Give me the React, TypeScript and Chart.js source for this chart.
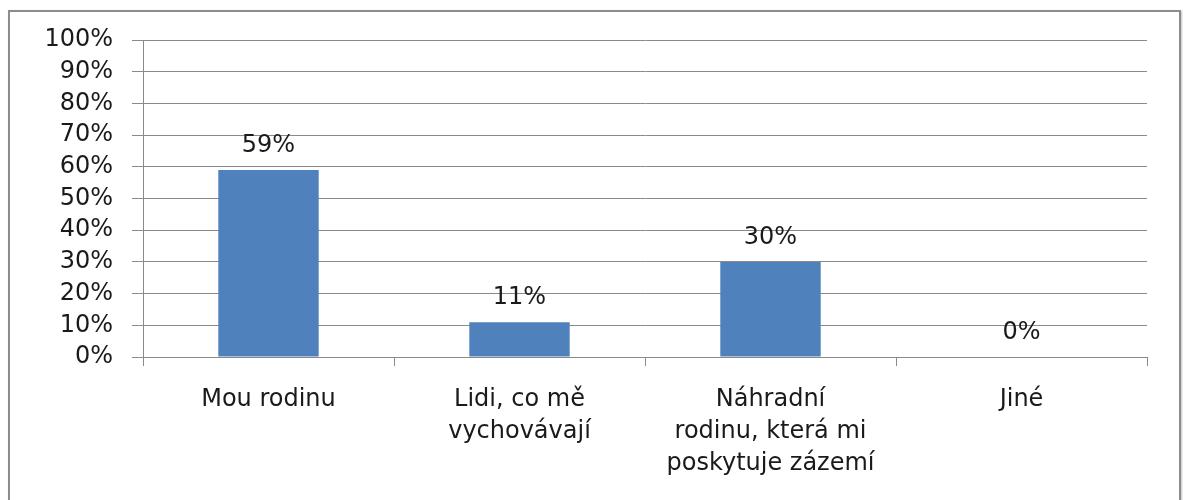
import React, { useEffect, useRef } from "react";
import { Chart, registerables } from "chart.js";

Chart.register(...registerables);

const categories: (string | string[])[] = [
  "Mou rodinu",
  ["Lidi, co mě", "vychovávají"],
  ["Náhradní", "rodinu, která mi", "poskytuje zázemí"],
  "Jiné",
];
const values: number[] = [59, 11, 30, 0];
const yTicks: number[] = [0, 10, 20, 30, 40, 50, 60, 70, 80, 90, 100];

const FONT = "'DejaVu Sans', sans-serif";
const TEXT = "#1a1a1a";
const GRID = "#8a8a8a";

const valueLabels = {
  id: "valueLabels",
  afterDatasetsDraw(chart: any) {
    const ctx = chart.ctx;
    const meta = chart.getDatasetMeta(0);
    ctx.save();
    ctx.font = `24px ${FONT}`;
    ctx.fillStyle = TEXT;
    ctx.textAlign = "center";
    ctx.textBaseline = "alphabetic";
    meta.data.forEach((el: any, i: number) => {
      ctx.fillText(`${values[i]}%`, el.x, el.y - 18);
    });
    ctx.restore();
  },
};

export default function App() {
  const ref = useRef<HTMLCanvasElement | null>(null);
  useEffect(() => {
    if (!ref.current) return;
    const chart = new Chart(ref.current, {
      type: "bar",
      data: {
        labels: categories,
        datasets: [
          {
            data: values,
            backgroundColor: "#4F81BD",
            borderWidth: 0,
            barPercentage: 0.4,
            categoryPercentage: 1,
          },
        ],
      },
      options: {
        responsive: false,
        animation: false,
        maintainAspectRatio: false,
        layout: { padding: { top: 40, right: 36, left: 0, bottom: 0 } },
        plugins: { legend: { display: false }, tooltip: { enabled: false } },
        scales: {
          x: {
            offset: true,
            afterFit: (s: any) => {
              s.height = 143;
            },
            grid: {
              offset: true,
              drawOnChartArea: false,
              drawTicks: true,
              tickLength: 9,
              color: GRID,
            },
            border: { color: GRID },
            ticks: {
              color: TEXT,
              font: { family: FONT, size: 24, lineHeight: 1.33 },
              padding: 18,
              maxRotation: 0,
              autoSkip: false,
            },
          },
          y: {
            min: 0,
            max: 100,
            afterFit: (s: any) => {
              s.width = 143;
            },
            afterBuildTicks: (s: any) => {
              s.ticks = yTicks.map((v) => ({ value: v }));
            },
            grid: { color: GRID, tickLength: 11 },
            border: { color: GRID },
            ticks: {
              color: TEXT,
              font: { family: FONT, size: 24 },
              padding: 19,
              autoSkip: false,
              callback: (v: any) => `${v}%`,
            },
          },
        },
      },
      plugins: [valueLabels],
    });
    return () => chart.destroy();
  }, []);
  return (
    <div style={{ position: "fixed", left: 0, top: 0, width: 1183, height: 500, background: "#fff" }}>
      <div
        style={{
          position: "absolute",
          left: 8,
          top: 10,
          width: 1169,
          height: 520,
          border: "2px solid #8c8c8c",
          boxShadow: "1px 1px 2px rgba(0,0,0,0.25)",
        }}
      />
      <canvas ref={ref} width={1183} height={500} style={{ position: "absolute", left: 0, top: 0 }} />
    </div>
  );
}
